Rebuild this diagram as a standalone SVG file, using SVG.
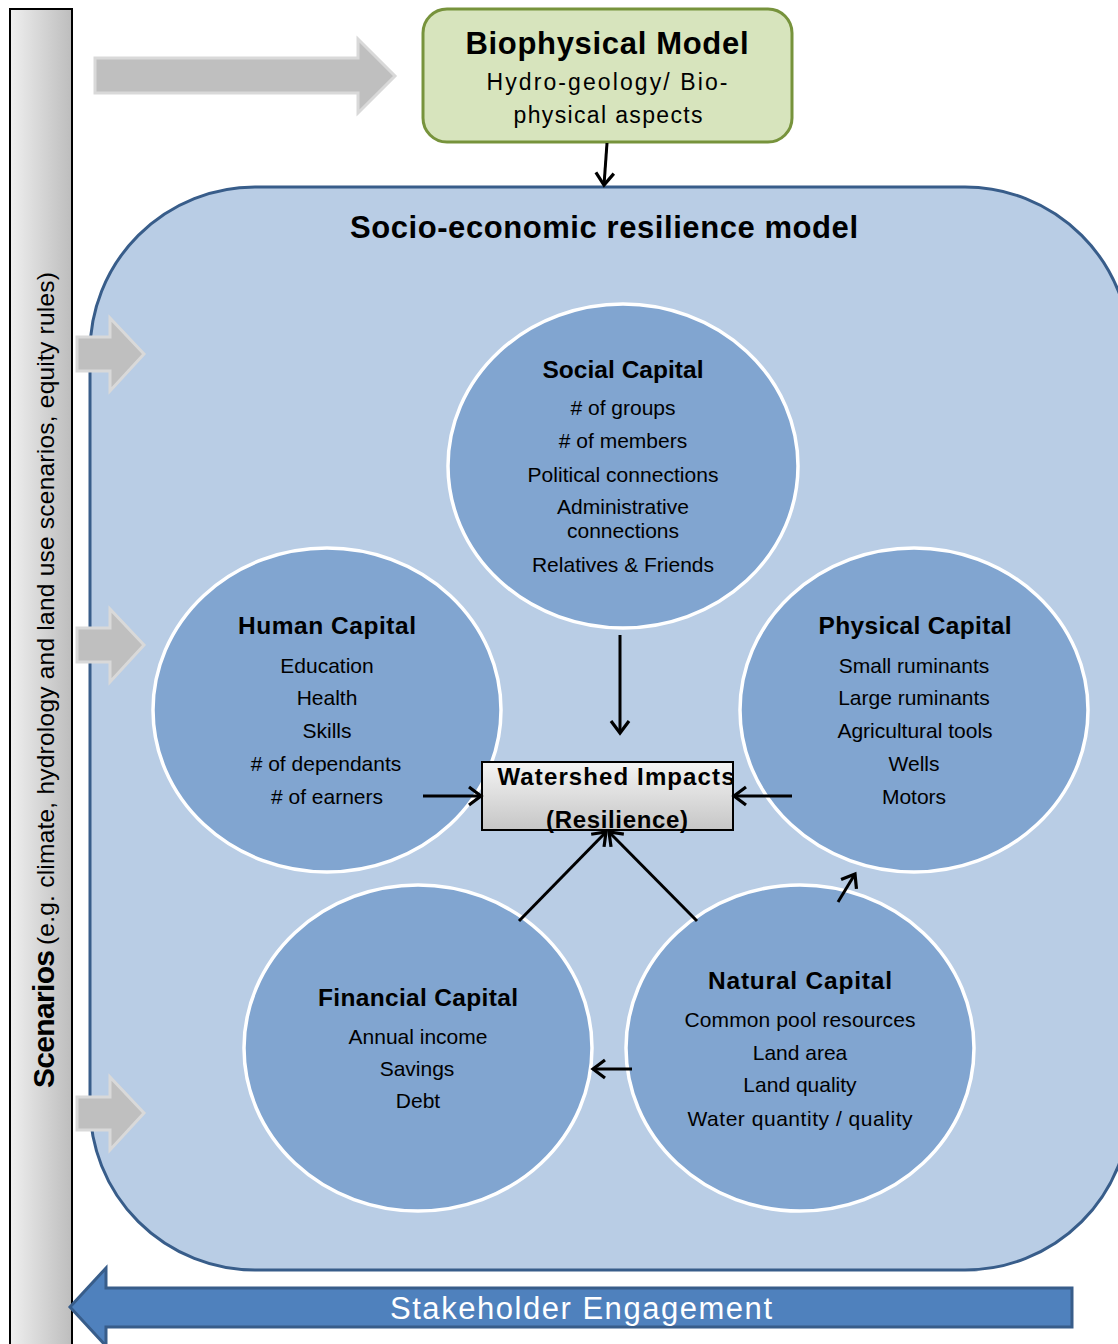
<svg xmlns="http://www.w3.org/2000/svg" width="1118" height="1344" viewBox="0 0 1118 1344">
<defs>
<linearGradient id="barGrad" x1="0" y1="0" x2="1" y2="0">
<stop offset="0" stop-color="#efefef"/>
<stop offset="1" stop-color="#bdbdbd"/>
</linearGradient>
<linearGradient id="boxGrad" x1="0" y1="0" x2="0" y2="1">
<stop offset="0" stop-color="#f4f4f4"/>
<stop offset="1" stop-color="#c6c6c6"/>
</linearGradient>
<marker id="chev" markerUnits="userSpaceOnUse" markerWidth="22" markerHeight="22" viewBox="0 0 22 22" refX="19" refY="11" orient="auto">
<path d="M7,2 L19,11 L7,20" fill="none" stroke="#000" stroke-width="3.2"/>
</marker>
<style>
.cap{fill:#81a5d0;stroke:#ffffff;stroke-width:3.5}
.title{font-family:"Liberation Sans",Arial,sans-serif;font-weight:bold;font-size:24.5px;fill:#000;text-anchor:middle}
.item{font-family:"Liberation Sans",Arial,sans-serif;font-size:21px;fill:#000;text-anchor:middle}
.grey{fill:#bfbfbf;stroke:#d9d9d9;stroke-width:3}
.conn{stroke:#000;stroke-width:3;fill:none;marker-end:url(#chev)}
</style>
</defs>
<rect width="1118" height="1344" fill="#ffffff"/>

<g id="scenarios">
<rect x="10" y="9" width="62" height="1345" fill="url(#barGrad)" stroke="#000" stroke-width="2"/>
<g transform="translate(54,1088) rotate(-90)">
<text x="0" y="0" font-family="'Liberation Sans',Arial,sans-serif" font-weight="bold" font-size="30" textLength="138" fill="#000">Scenarios</text>
<text x="143" y="0" font-family="'Liberation Sans',Arial,sans-serif" font-size="24.5" textLength="673" fill="#000">(e.g. climate, hydrology and land use scenarios, equity rules)</text>
</g>
</g>

<g id="top-arrow">
<path class="grey" d="M95,58 L358,58 L358,39 L395,76 L358,113 L358,93 L95,93 Z"/>
</g>

<g id="biophysical-model">
<rect x="423" y="9" width="369" height="133" rx="24" fill="#d7e4bd" stroke="#77933c" stroke-width="3"/>
<text x="607" y="54" text-anchor="middle" font-family="'Liberation Sans',Arial,sans-serif" font-weight="bold" font-size="31" textLength="283" fill="#000">Biophysical Model</text>
<text x="607" y="90" text-anchor="middle" font-family="'Liberation Sans',Arial,sans-serif" font-size="23" textLength="241" fill="#000">Hydro-geology/ Bio-</text>
<text x="608" y="123" text-anchor="middle" font-family="'Liberation Sans',Arial,sans-serif" font-size="23" textLength="189" fill="#000">physical aspects</text>
</g>

<g id="resilience-model">
<rect x="90" y="187" width="1040" height="1083" rx="165" ry="165" fill="#b9cde5" stroke="#385d8a" stroke-width="3"/>
<text x="604" y="238" text-anchor="middle" font-family="'Liberation Sans',Arial,sans-serif" font-weight="bold" font-size="31" textLength="508" fill="#000">Socio-economic resilience model</text>
</g>

<g id="side-arrows">
<path class="grey" d="M77,337 L110,337 L110,318 L144,354 L110,391 L110,371 L77,371 Z"/>
<path class="grey" d="M77,628 L110,628 L110,609 L144,645 L110,682 L110,662 L77,662 Z"/>
<path class="grey" d="M77,1097 L110,1097 L110,1077 L144,1113 L110,1150 L110,1130 L77,1130 Z"/>
</g>

<g id="social-capital">
<ellipse class="cap" cx="623" cy="466" rx="175" ry="162"/>
<text class="title" x="623" y="378" textLength="161">Social Capital</text>
<text class="item" x="623" y="415"># of groups</text>
<text class="item" x="623" y="448"># of members</text>
<text class="item" x="623" y="482" textLength="191">Political connections</text>
<text class="item" x="623" y="514">Administrative</text>
<text class="item" x="623" y="538">connections</text>
<text class="item" x="623" y="572">Relatives &amp; Friends</text>
</g>

<g id="human-capital">
<ellipse class="cap" cx="327" cy="710" rx="174" ry="162"/>
<text class="title" x="327" y="634" textLength="178">Human Capital</text>
<text class="item" x="327" y="673">Education</text>
<text class="item" x="327" y="705">Health</text>
<text class="item" x="327" y="738">Skills</text>
<text class="item" x="326" y="771"># of dependants</text>
<text class="item" x="327" y="804"># of earners</text>
</g>

<g id="physical-capital">
<ellipse class="cap" cx="914" cy="710" rx="174" ry="162"/>
<text class="title" x="915" y="634" textLength="193">Physical Capital</text>
<text class="item" x="914" y="673">Small ruminants</text>
<text class="item" x="914" y="705">Large ruminants</text>
<text class="item" x="915" y="738">Agricultural tools</text>
<text class="item" x="914" y="771">Wells</text>
<text class="item" x="914" y="804">Motors</text>
</g>

<g id="financial-capital">
<ellipse class="cap" cx="418" cy="1048" rx="174" ry="163"/>
<text class="title" x="418" y="1006" textLength="200">Financial Capital</text>
<text class="item" x="418" y="1044">Annual income</text>
<text class="item" x="417" y="1076">Savings</text>
<text class="item" x="418" y="1108">Debt</text>
</g>

<g id="natural-capital">
<ellipse class="cap" cx="800" cy="1048" rx="174" ry="163"/>
<text class="title" x="800" y="989" textLength="184">Natural Capital</text>
<text class="item" x="800" y="1027" textLength="231">Common pool resources</text>
<text class="item" x="800" y="1060">Land area</text>
<text class="item" x="800" y="1092">Land quality</text>
<text class="item" x="800" y="1126" textLength="225">Water quantity / quality</text>
</g>

<g id="watershed-impacts">
<rect x="482" y="762" width="251" height="68" fill="url(#boxGrad)" stroke="#000" stroke-width="2"/>
<text x="616" y="785" text-anchor="middle" font-family="'Liberation Sans',Arial,sans-serif" font-weight="bold" font-size="24" textLength="237" fill="#000">Watershed Impacts</text>
<text x="617" y="828" text-anchor="middle" font-family="'Liberation Sans',Arial,sans-serif" font-weight="bold" font-size="24" textLength="142" fill="#000">(Resilience)</text>
</g>

<g id="stakeholder-engagement">
<path d="M1072,1288 L1072,1327 L106,1327 L106,1346 L70,1307 L106,1268 L106,1288 Z" fill="#4f81bd" stroke="#385d8a" stroke-width="3"/>
<text x="581" y="1319" text-anchor="middle" font-family="'Liberation Sans',Arial,sans-serif" font-size="31" textLength="382" fill="#ffffff">Stakeholder Engagement</text>
</g>

<g id="connectors">
<line class="conn" x1="607" y1="143" x2="604" y2="185"/>
<line class="conn" x1="620" y1="635" x2="620" y2="733"/>
<line class="conn" x1="423" y1="796" x2="481" y2="796"/>
<line class="conn" x1="792" y1="796" x2="734" y2="796"/>
<line class="conn" x1="519" y1="921" x2="606" y2="832"/>
<line class="conn" x1="697" y1="921" x2="609" y2="832"/>
<line class="conn" x1="838" y1="902" x2="855" y2="874"/>
<line class="conn" x1="632" y1="1069" x2="593" y2="1069"/>
</g>
</svg>
